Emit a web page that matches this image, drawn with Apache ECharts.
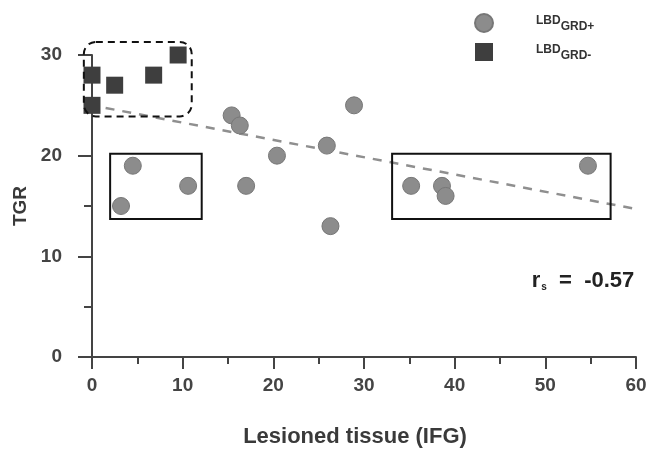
<!DOCTYPE html>
<html>
<head>
<meta charset="utf-8">
<script src="https://cdn.jsdelivr.net/npm/echarts@6/dist/echarts.min.js"></script>
<style>html,body{margin:0;padding:0;background:#fff}#c{width:655px;height:458px}</style>
</head>
<body>
<div id="c"></div>
<script>
// Data
const posX = [4.5, 10.6, 3.2, 15.4, 16.3, 20.4, 17.0, 28.9, 25.9, 26.3, 35.2, 38.6, 39.0, 54.7];
const posY = [19, 17, 15, 24, 23, 20, 17, 25, 21, 13, 17, 17, 16, 19];
const negX = [0, 0, 2.5, 6.8, 9.5];
const negY = [28, 25, 27, 28, 30];
const trendX = [1.5, 60];
const trendY = [24.74, 14.7];
const xTicks = [0, 10, 20, 30, 40, 50, 60];
const yTicks = [0, 10, 20, 30];
const seriesNames = ['LBDGRD+', 'LBDGRD-'];
const rsText = '-0.57';

const chart = echarts.init(document.getElementById('c'));
const FONT = 'Liberation Sans';
const axisCol = '#444';

const option = {
  animation: false,
  backgroundColor: '#fff',
  grid: { left: 92, right: 19, top: 55, bottom: 101, containLabel: false },
  legend: {
    orient: 'vertical', left: 469, top: 8, itemWidth: 18, itemHeight: 18, itemGap: 10,
    data: [{ name: seriesNames[0], icon: 'circle' }, { name: seriesNames[1], icon: 'rect' }],
    formatter: function (n) { return '{a|LBD}{b|' + n.slice(3) + '}'; },
    textStyle: {
      rich: {
        a: { fontFamily: FONT, fontSize: 12, fontWeight: 'bold', color: '#333', padding: [0, 0, 4, 38] },
        b: { fontFamily: FONT, fontSize: 12, fontWeight: 'bold', color: '#333', padding: [8, 0, 0, 0] }
      }
    }
  },
  xAxis: {
    type: 'value', min: xTicks[0], max: xTicks[xTicks.length - 1], interval: 10,
    name: 'Lesioned tissue (IFG)', nameLocation: 'middle', nameGap: 69,
    nameTextStyle: { fontFamily: FONT, fontSize: 22, fontWeight: 'bold', color: '#3a3a3a', padding: [0, 18, 0, 0] },
    axisLine: { onZero: false, lineStyle: { color: axisCol, width: 2 } },
    axisTick: { length: 12, lineStyle: { color: axisCol, width: 2 } },
    minorTick: { show: true, splitNumber: 2, length: 7, lineStyle: { color: axisCol, width: 2 } },
    axisLabel: { fontFamily: FONT, fontSize: 19, fontWeight: 'bold', color: '#444', margin: 19 },
    splitLine: { show: false }
  },
  yAxis: {
    type: 'value', min: yTicks[0], max: yTicks[yTicks.length - 1], interval: 10,
    name: 'TGR', nameLocation: 'middle', nameGap: 62,
    nameTextStyle: { fontFamily: FONT, fontSize: 19, fontWeight: 'bold', color: '#3a3a3a' },
    axisLine: { show: true, onZero: false, lineStyle: { color: axisCol, width: 2 } },
    axisTick: { show: true, length: 14, lineStyle: { color: axisCol, width: 2 } },
    minorTick: { show: true, splitNumber: 2, length: 8, lineStyle: { color: axisCol, width: 2 } },
    axisLabel: { fontFamily: FONT, fontSize: 19, fontWeight: 'bold', color: '#444', margin: 30 },
    splitLine: { show: false }
  },
  series: [
    {
      name: 'trend', type: 'line', data: trendX.map((x, i) => [x, trendY[i]]),
      showSymbol: false, silent: true, z: 1,
      lineStyle: { color: '#8f8f8f', width: 2.5, type: [9, 8] }
    },
    {
      name: seriesNames[0], type: 'scatter', symbol: 'circle', symbolSize: 17, z: 3,
      data: posX.map((x, i) => [x, posY[i]]),
      itemStyle: { color: '#8c8c8c', borderColor: '#777', borderWidth: 1, opacity: 1 }
    },
    {
      name: seriesNames[1], type: 'scatter', symbol: 'rect', symbolSize: 17, z: 3,
      data: negX.map((x, i) => [x, negY[i]]),
      itemStyle: { color: '#3e3e3e', opacity: 1 }
    }
  ]
};
chart.setOption(option);

// Annotation boxes (in data units)
const boxes = [
  { x0: -0.9, y0: 31.3, x1: 11.0, y1: 23.9, dashed: true, r: 12 },
  { x0: 2.0, y0: 20.2, x1: 12.1, y1: 13.7, dashed: false, r: 0 },
  { x0: 33.1, y0: 20.2, x1: 57.2, y1: 13.7, dashed: false, r: 0 }
];
const gfx = boxes.map(b => {
  const p0 = chart.convertToPixel({ gridIndex: 0 }, [b.x0, b.y0]);
  const p1 = chart.convertToPixel({ gridIndex: 0 }, [b.x1, b.y1]);
  return {
    type: 'rect', z: 10, silent: true,
    shape: { x: p0[0], y: p0[1], width: p1[0] - p0[0], height: p1[1] - p0[1], r: b.r },
    style: { fill: 'none', stroke: '#111', lineWidth: 2, lineDash: b.dashed ? [7, 5] : null }
  };
});
const rp = chart.convertToPixel({ gridIndex: 0 }, [48.5, 8.6]);
gfx.push({
  type: 'text', z: 10, left: rp[0], top: rp[1],
  style: {
    text: '{r|r}{s|s}{v|  =  ' + rsText + '}',
    rich: {
      r: { fontFamily: FONT, fontSize: 22, fontWeight: 'bold', fill: '#222' },
      s: { fontFamily: FONT, fontSize: 10, fontWeight: 'bold', fill: '#222', padding: [12, 0, 0, 1] },
      v: { fontFamily: FONT, fontSize: 22, fontWeight: 'bold', fill: '#222' }
    }
  }
});
chart.setOption({ graphic: gfx });
</script>
</body>
</html>
